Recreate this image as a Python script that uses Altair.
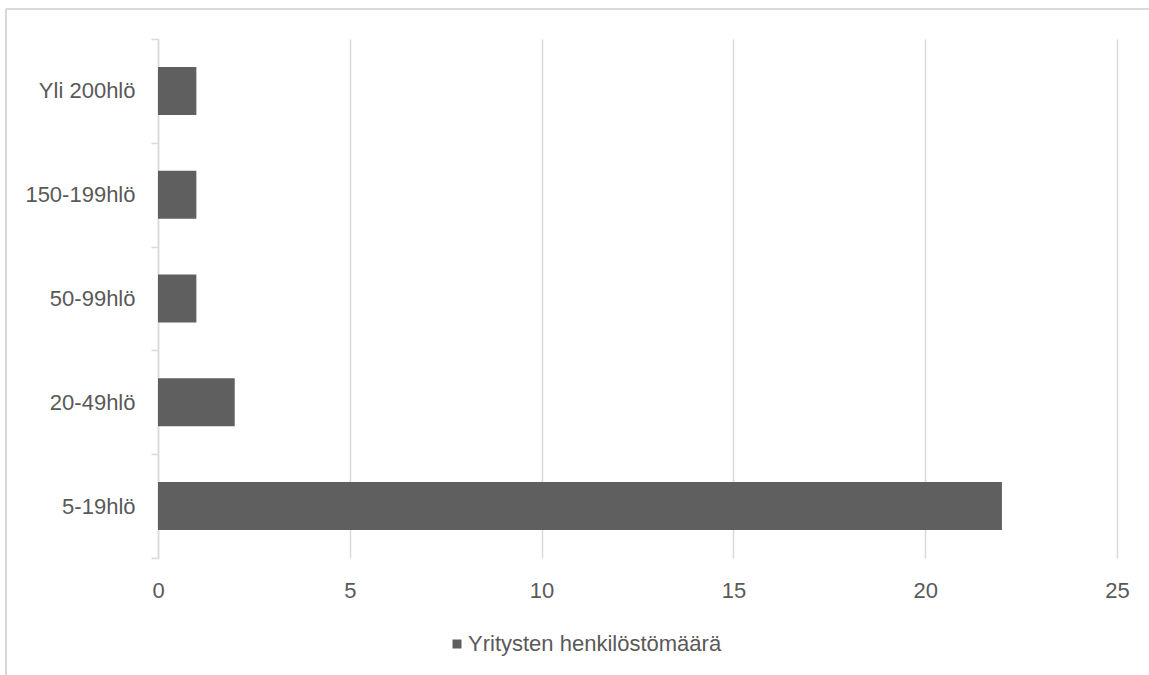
import altair as alt
import pandas as pd

# Company size classes (top to bottom) and number of companies in each
categories = ["Yli 200hlö", "150-199hlö", "50-99hlö", "20-49hlö", "5-19hlö"]
counts = [1, 1, 1, 2, 22]
series_name = "Yritysten henkilöstömäärä"
x_ticks = [0, 5, 10, 15, 20, 25]

df = pd.DataFrame({"luokka": categories, "maara": counts, "sarja": series_name})

FONT = "Liberation Sans"
TEXT = "#595959"
LINE = "#d9d9d9"
BAR = "#5f5f5f"

bars = alt.Chart(df).mark_bar(size=48).encode(
    x=alt.X(
        "maara:Q",
        scale=alt.Scale(domain=[0, 25], nice=False),
        axis=alt.Axis(
            values=x_ticks, title=None, grid=True, gridColor=LINE, gridWidth=1.5,
            domain=False, ticks=False, labelPadding=22, labelFontSize=22,
            labelFont=FONT, labelColor=TEXT, labelFlush=False,
        ),
    ),
    y=alt.Y(
        "luokka:N",
        sort=categories,
        scale=alt.Scale(paddingInner=0, paddingOuter=0),
        axis=alt.Axis(
            title=None, domain=True, domainColor=LINE, domainWidth=1.5,
            ticks=True, tickBand="extent", tickSize=7, tickColor=LINE, tickWidth=1.5,
            grid=False, labelPadding=16, labelFontSize=22, labelFont=FONT,
            labelColor=TEXT,
        ),
    ),
    color=alt.Color(
        "sarja:N",
        scale=alt.Scale(range=[BAR]),
        legend=alt.Legend(
            title=None, orient="none", legendX=288, legendY=594,
            symbolType="square", symbolSize=81, symbolStrokeWidth=0,
            labelFontSize=22, labelFont=FONT, labelColor=TEXT, labelOffset=0,
            labelLimit=500, padding=0,
        ),
    ),
)

# Chart frame lines along the top and left edges
frame = alt.Data(values=[{}])
top_edge = alt.Chart(frame).mark_rule(color=LINE, strokeWidth=2).encode(
    x=alt.value(-152), x2=alt.value(991), y=alt.value(-30)
)
left_edge = alt.Chart(frame).mark_rule(color=LINE, strokeWidth=2).encode(
    x=alt.value(-152), y=alt.value(-30), y2=alt.value(636)
)

chart = alt.layer(bars, top_edge, left_edge).properties(
    width=959,
    height=519,
    autosize=alt.AutoSizeParams(type="none"),
    padding={"left": 158, "top": 39, "right": 32, "bottom": 117},
    background="white",
).configure_view(stroke=None)

chart.save("out.html", embed_options={"renderer": "svg", "actions": False})
